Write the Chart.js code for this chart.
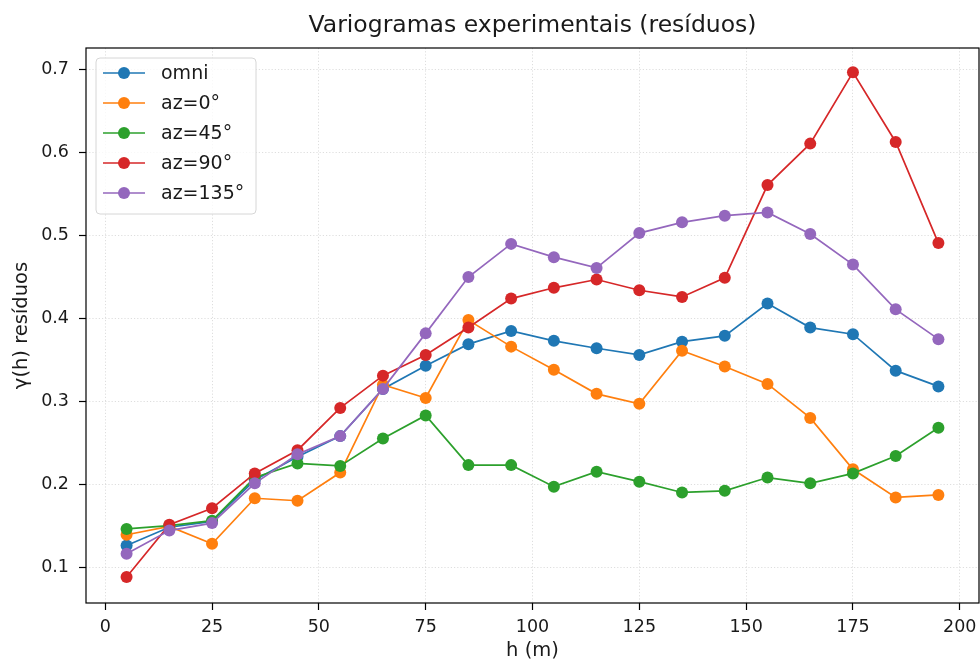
<!DOCTYPE html>
<html>
<head>
<meta charset="utf-8">
<script src="https://cdn.jsdelivr.net/npm/chart.js@4/dist/chart.umd.min.js"></script>
<style>
  html, body { margin: 0; padding: 0; background: #fff; overflow: hidden; }
  #wrap { width: 980px; height: 663px; }
  #c { display: block; }
</style>
</head>
<body>
<div id="wrap"><canvas id="c" width="980" height="663"></canvas></div>
<script>
// Lag distances (m)
const lags = [5, 15, 25, 35, 45, 55, 65, 75, 85, 95, 105, 115, 125, 135, 145, 155, 165, 175, 185, 195];

// Experimental semivariance of the residuals per direction
const omni   = [0.126, 0.148, 0.155, 0.205, 0.233, 0.258, 0.315, 0.343, 0.369, 0.385, 0.373, 0.364, 0.356, 0.372, 0.379, 0.418, 0.389, 0.381, 0.337, 0.318];
const az0    = [0.139, 0.149, 0.128, 0.183, 0.180, 0.214, 0.320, 0.304, 0.398, 0.366, 0.338, 0.309, 0.297, 0.361, 0.342, 0.321, 0.280, 0.218, 0.184, 0.187];
const az45   = [0.146, 0.150, 0.156, 0.208, 0.225, 0.222, 0.255, 0.283, 0.223, 0.223, 0.197, 0.215, 0.203, 0.190, 0.192, 0.208, 0.201, 0.213, 0.234, 0.268];
const az90   = [0.088, 0.151, 0.171, 0.213, 0.241, 0.292, 0.331, 0.356, 0.389, 0.424, 0.437, 0.447, 0.434, 0.426, 0.449, 0.561, 0.611, 0.697, 0.613, 0.491];
const az135  = [0.116, 0.144, 0.153, 0.201, 0.236, 0.258, 0.315, 0.382, 0.450, 0.490, 0.474, 0.461, 0.503, 0.516, 0.524, 0.528, 0.502, 0.465, 0.411, 0.375];

const seriesNames = ['omni', 'az=0°', 'az=45°', 'az=90°', 'az=135°'];
const seriesValues = [omni, az0, az45, az90, az135];
const seriesColors = ['#1f77b4', '#ff7f0e', '#2ca02c', '#d62728', '#9467bd'];

const xTicks = [0, 25, 50, 75, 100, 125, 150, 175, 200];
const yTicks = [0.1, 0.2, 0.3, 0.4, 0.5, 0.6, 0.7];

const titleText = 'Variogramas experimentais (resíduos)';
const xLabel = 'h (m)';
const yLabel = 'γ(h) resíduos';

const FONT = "'DejaVu Sans', sans-serif";
const TEXT = '#1a1a1a';

// Plot box edges in canvas pixels
const BOX = { left: 86, right: 979, top: 48, bottom: 603 };

const datasets = seriesValues.map((vals, i) => ({
  label: seriesNames[i],
  data: lags.map((h, j) => ({ x: h, y: vals[j] })),
  borderColor: seriesColors[i],
  backgroundColor: seriesColors[i],
  pointBackgroundColor: seriesColors[i],
  pointBorderColor: seriesColors[i],
  pointRadius: 6,
  pointBorderWidth: 0,
  pointHoverRadius: 6,
  borderWidth: 1.7,
  showLine: true,
  tension: 0,
  fill: false,
  // later series are drawn above earlier ones
  order: seriesValues.length - i
}));

// Pin the plotting area to fixed edges once the automatic layout has run
const fixedBox = {
  id: 'fixedBox',
  afterLayout(chart) {
    const a = chart.chartArea;
    a.left = BOX.left; a.right = BOX.right; a.top = BOX.top; a.bottom = BOX.bottom;
    a.width = a.right - a.left; a.height = a.bottom - a.top;
    const x = chart.scales.x, y = chart.scales.y;
    x.left = a.left; x.right = a.right; x.width = a.width;
    x.top = a.bottom; x.height = x.bottom - x.top;
    y.top = a.top; y.bottom = a.bottom; y.height = a.height;
    y.right = a.left; y.left = 0; y.width = a.left;
    x.configure();
    y.configure();
  }
};

// Frame around the plotting area, title and in-plot legend
const decorations = {
  id: 'decorations',
  afterDraw(chart) {
    const { ctx, chartArea: a } = chart;
    ctx.save();
    ctx.setLineDash([]);
    ctx.strokeStyle = '#000';
    ctx.lineWidth = 1.2;
    ctx.strokeRect(a.left, a.top, a.right - a.left, a.bottom - a.top);

    // title
    ctx.fillStyle = TEXT;
    ctx.font = '23.5px ' + FONT;
    ctx.textAlign = 'center';
    ctx.textBaseline = 'alphabetic';
    ctx.fillText(titleText, (a.left + a.right) / 2, 32);

    // legend
    const lx = a.left + 10, ly = a.top + 10, lw = 160, lh = 156;
    const r = 4;
    ctx.beginPath();
    ctx.moveTo(lx + r, ly);
    ctx.lineTo(lx + lw - r, ly);
    ctx.quadraticCurveTo(lx + lw, ly, lx + lw, ly + r);
    ctx.lineTo(lx + lw, ly + lh - r);
    ctx.quadraticCurveTo(lx + lw, ly + lh, lx + lw - r, ly + lh);
    ctx.lineTo(lx + r, ly + lh);
    ctx.quadraticCurveTo(lx, ly + lh, lx, ly + lh - r);
    ctx.lineTo(lx, ly + r);
    ctx.quadraticCurveTo(lx, ly, lx + r, ly);
    ctx.closePath();
    ctx.fillStyle = 'rgba(255,255,255,0.8)';
    ctx.fill();
    ctx.strokeStyle = '#d6d6d6';
    ctx.lineWidth = 1;
    ctx.stroke();

    ctx.font = '19px ' + FONT;
    ctx.textAlign = 'left';
    ctx.textBaseline = 'middle';
    chart.data.datasets.forEach((ds, i) => {
      const y = ly + 15 + i * 30;
      ctx.strokeStyle = ds.borderColor;
      ctx.lineWidth = 1.7;
      ctx.beginPath();
      ctx.moveTo(lx + 7, y);
      ctx.lineTo(lx + 49, y);
      ctx.stroke();
      ctx.fillStyle = ds.borderColor;
      ctx.beginPath();
      ctx.arc(lx + 28, y, 6, 0, Math.PI * 2);
      ctx.fill();
      ctx.fillStyle = TEXT;
      ctx.fillText(ds.label, lx + 65, y + 1);
    });
    ctx.restore();
  }
};

const gridOpts = {
  color: 'rgba(185,185,185,0.6)',
  lineWidth: 0.8,
  drawTicks: true,
  tickLength: 7,
  tickColor: '#000',
  tickWidth: 1.2,
  tickBorderDash: []
};

new Chart(document.getElementById('c'), {
  type: 'scatter',
  data: { datasets },
  options: {
    responsive: false,
    animation: false,
    layout: { padding: { top: 48, right: 1, left: 0, bottom: 0 } },
    plugins: {
      legend: { display: false },
      title: { display: false },
      tooltip: { enabled: false }
    },
    scales: {
      x: {
        type: 'linear',
        min: -4.5,
        max: 204.5,
        afterBuildTicks(scale) { scale.ticks = xTicks.map(v => ({ value: v })); },
        afterFit(scale) { scale.height = 60; },
        ticks: {
          color: TEXT,
          font: { family: FONT, size: 17.5 },
          padding: 7,
          maxRotation: 0,
          callback: v => String(v)
        },
        grid: gridOpts,
        border: { display: false, dash: [1.2, 2] },
        title: {
          display: true,
          text: xLabel,
          color: TEXT,
          font: { family: FONT, size: 19.5 },
          padding: { top: 0, bottom: 0 }
        }
      },
      y: {
        type: 'linear',
        min: 0.0566,
        max: 0.7264,
        afterBuildTicks(scale) { scale.ticks = yTicks.map(v => ({ value: v })); },
        afterFit(scale) { scale.width = 86; },
        ticks: {
          color: TEXT,
          font: { family: FONT, size: 17.5 },
          padding: 10,
          callback: v => v.toFixed(1)
        },
        grid: gridOpts,
        border: { display: false, dash: [1.2, 2] },
        title: {
          display: true,
          text: yLabel,
          color: TEXT,
          font: { family: FONT, size: 19.5 },
          padding: { top: 10, bottom: 0 }
        }
      }
    }
  },
  plugins: [fixedBox, decorations]
});
</script>
</body>
</html>
